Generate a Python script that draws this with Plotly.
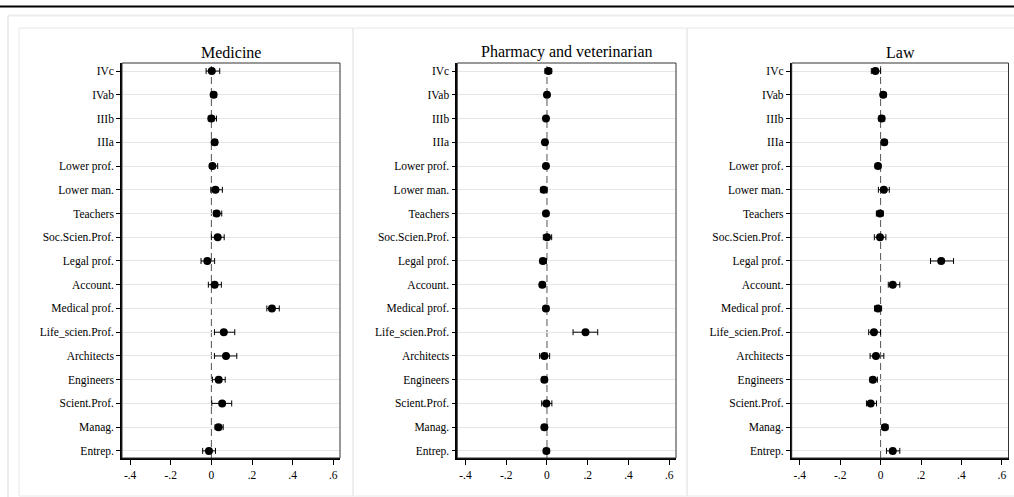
import plotly.graph_objects as go

categories = ["IVc", "IVab", "IIIb", "IIIa", "Lower prof.", "Lower man.", "Teachers",
              "Soc.Scien.Prof.", "Legal prof.", "Account.", "Medical prof.",
              "Life_scien.Prof.", "Architects", "Engineers", "Scient.Prof.",
              "Manag.", "Entrep."]

titles = ["Medicine", "Pharmacy and veterinarian", "Law"]

med_est = [0.002, 0.011, 0.0, 0.016, 0.005, 0.02, 0.026, 0.031, -0.02, 0.016, 0.298,
           0.061, 0.072, 0.036, 0.053, 0.035, -0.012]
med_lo = [-0.026, -0.002, -0.015, 0.004, -0.008, -0.003, 0.01, 0.0, -0.051, -0.015, 0.273,
          0.015, 0.015, 0.005, 0.002, 0.018, -0.043]
med_hi = [0.041, 0.025, 0.025, 0.03, 0.031, 0.054, 0.051, 0.063, 0.016, 0.049, 0.334,
          0.115, 0.125, 0.068, 0.1, 0.058, 0.02]

pha_est = [0.007, 0.0, -0.005, -0.01, -0.005, -0.016, -0.005, 0.0, -0.02, -0.023, -0.005,
           0.189, -0.013, -0.013, -0.003, -0.013, -0.003]
pha_lo = [-0.01, -0.008, -0.013, -0.018, -0.013, -0.03, -0.015, -0.018, -0.033, -0.035,
          -0.018, 0.128, -0.036, -0.026, -0.026, -0.023, -0.016]
pha_hi = [0.023, 0.008, 0.003, -0.002, 0.003, 0.0, 0.005, 0.023, -0.003, -0.01, 0.008,
          0.249, 0.013, 0.0, 0.024, 0.0, 0.01]

law_est = [-0.026, 0.013, 0.005, 0.018, -0.013, 0.016, -0.003, -0.003, 0.3, 0.06, -0.013,
           -0.033, -0.023, -0.038, -0.049, 0.021, 0.06]
law_lo = [-0.046, 0.0, -0.008, 0.005, -0.026, -0.011, -0.021, -0.031, 0.247, 0.038, -0.03,
          -0.059, -0.052, -0.052, -0.07, 0.008, 0.029]
law_hi = [0.0, 0.026, 0.02, 0.031, 0.0, 0.043, 0.013, 0.026, 0.361, 0.095, 0.005, 0.0,
          0.016, -0.016, -0.02, 0.036, 0.095]

tick_vals = [-0.4, -0.2, 0, 0.2, 0.4, 0.6]
tick_text = ["-.4", "-.2", "0", ".2", ".4", ".6"]

W, H = 1014, 497
FONT = "Liberation Serif, Times New Roman, serif"

panels = [(med_est, med_lo, med_hi), (pha_est, pha_lo, pha_hi), (law_est, law_lo, law_hi)]
# plot area pixel extents (left, right)
px_x = [(122, 340), (457.3, 676), (791.7, 1008.5)]
top_px, bot_px = 63, 458
panel_boxes = [(19, 353), (353, 687), (687, 1020)]

fig = go.Figure()
shapes = []
annotations = []

for i, ((est, lo, hi), (xl, xr), title) in enumerate(zip(panels, px_x, titles)):
    n = "" if i == 0 else str(i + 1)
    xa, ya = "x" + n, "y" + n
    plus = [h - e for h, e in zip(hi, est)]
    minus = [e - l for e, l in zip(est, lo)]
    fig.add_trace(go.Scatter(
        x=est, y=categories, mode="markers", xaxis=xa, yaxis=ya,
        marker=dict(color="black", size=8, symbol="circle"),
        error_x=dict(type="data", symmetric=False, array=plus, arrayminus=minus,
                     color="black", thickness=1, width=3),
        showlegend=False, cliponaxis=False))
    dom_x = [xl / W, xr / W]
    dom_y = [1 - bot_px / H, 1 - top_px / H]
    fig.layout["xaxis" + n] = dict(
        domain=dom_x, range=[-0.44, 0.633], anchor=ya, tickmode="array",
        tickvals=tick_vals, ticktext=tick_text, ticks="outside", ticklen=5,
        tickcolor="black", showgrid=False, zeroline=False, showline=True,
        linecolor="black", linewidth=1.6,
        tickfont=dict(family=FONT, size=11.5, color="black"), fixedrange=True)
    fig.layout["yaxis" + n] = dict(
        domain=dom_y, anchor=xa, type="category", categoryorder="array",
        categoryarray=categories, range=[16.3, -0.34], ticks="outside", ticklen=4,
        tickcolor="black", showgrid=True, gridcolor="#e6e6e6", gridwidth=1,
        zeroline=False, showline=True, linecolor="black", linewidth=1.6,
        tickfont=dict(family=FONT, size=11.5, color="black"), fixedrange=True)
    # frame (top/right)
    shapes.append(dict(type="rect", xref=xa + " domain", yref=ya + " domain",
                       x0=0, x1=1, y0=0, y1=1, line=dict(color="#333333", width=1),
                       layer="above"))
    # dashed zero line
    shapes.append(dict(type="line", xref=xa, yref=ya + " domain", x0=0, x1=0, y0=0, y1=1,
                       line=dict(color="#555555", width=1, dash="7px,4px"), layer="below"))
    # panel box
    bl, br = panel_boxes[i]
    shapes.append(dict(type="rect", xref="paper", yref="paper",
                       x0=bl / W, x1=br / W, y0=1 - 496 / H, y1=1 - 28 / H,
                       line=dict(color="#e8e8e8", width=1), layer="below"))
    annotations.append(dict(text=title, xref="paper", yref="paper",
                            x=(xl + xr) / 2 / W, y=1 - 52 / H, xanchor="center",
                            yanchor="middle", showarrow=False,
                            font=dict(family=FONT, size=16, color="black")))

# outer frame lines
shapes.append(dict(type="line", xref="paper", yref="paper", x0=0, x1=1,
                   y0=1 - 6.5 / H, y1=1 - 6.5 / H, line=dict(color="black", width=2)))
shapes.append(dict(type="line", xref="paper", yref="paper", x0=8 / W, x1=1,
                   y0=1 - 15.5 / H, y1=1 - 15.5 / H, line=dict(color="#ececec", width=2)))
shapes.append(dict(type="line", xref="paper", yref="paper", x0=8 / W, x1=8 / W,
                   y0=0, y1=1 - 15.5 / H, line=dict(color="#ececec", width=2)))

fig.update_layout(
    width=W, height=H, margin=dict(l=0, r=0, t=0, b=0),
    paper_bgcolor="white", plot_bgcolor="white",
    shapes=shapes, annotations=annotations,
    font=dict(family=FONT, color="black"))

fig.write_html("out.html", config={"displayModeBar": False},
               post_script="document.body.style.margin='0';document.body.style.overflow='hidden';")
